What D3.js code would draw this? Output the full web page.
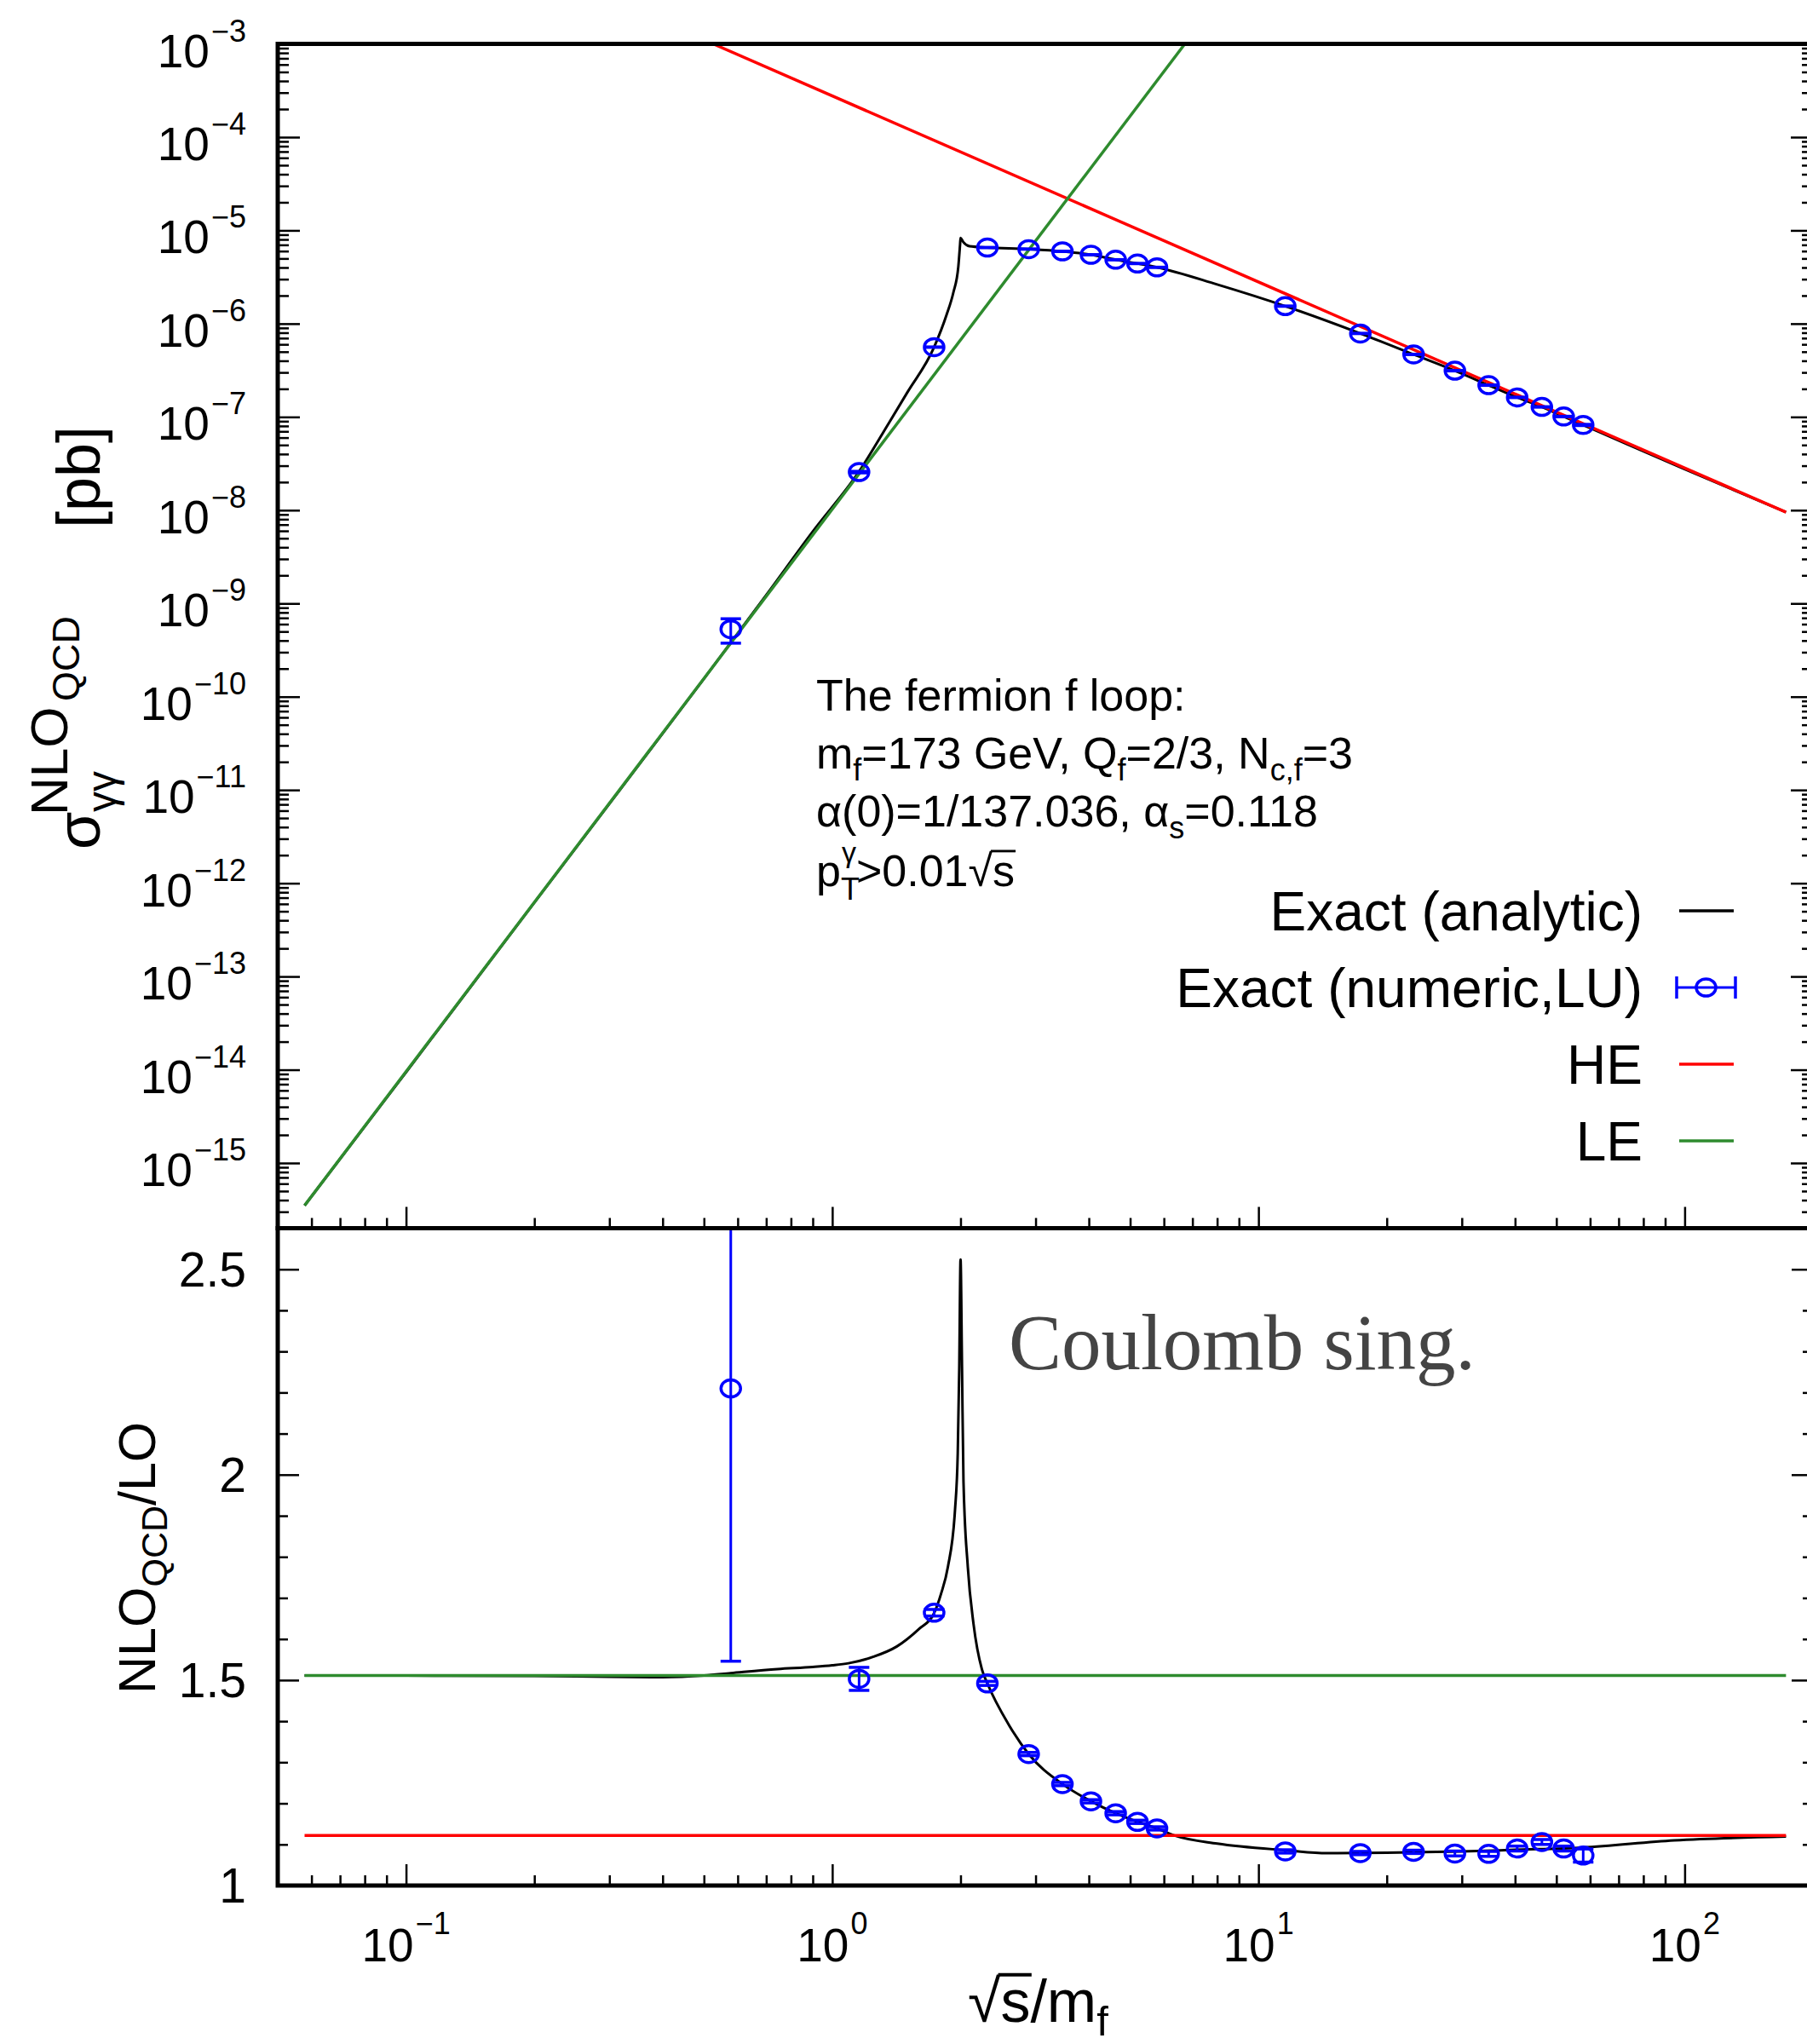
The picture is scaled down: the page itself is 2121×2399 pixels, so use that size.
<!DOCTYPE html>
<html lang="en">
<head>
<meta charset="UTF-8">
<title>sigma NLO QCD, gamma gamma -> gamma gamma, fermion loop</title>
<script src="https://d3js.org/d3.v7.min.js"></script>
<style>
  body { margin: 0; background: #fff; }
  svg { display: block; font-family: "Liberation Sans", Arial, Helvetica, sans-serif; }
  .axis .domain { display: none; }
  .axis line { stroke: #000; stroke-width: 2.5; }
  .frame { fill: none; stroke: #000; stroke-width: 5; }
</style>
</head>
<body>
<svg width="2121" height="2399"></svg>
<script>
// sqrt(s)/m_f of the numeric (LU) points
const ptX = [0.578, 1.156, 1.734, 2.312, 2.890, 3.468, 4.046, 4.624, 5.202, 5.780,
             11.56, 17.34, 23.12, 28.90, 34.68, 40.46, 46.24, 52.02, 57.80];
// cross section [pb] of the numeric points, with errors
const ptSigma = [5.3e-10, 2.56e-8, 5.6e-7, 6.55e-6, 6.3e-6, 5.96e-6, 5.48e-6, 4.85e-6, 4.41e-6, 4.02e-6,
                 1.54e-6, 7.85e-7, 4.68e-7, 3.13e-7, 2.19e-7, 1.62e-7, 1.28e-7, 1.01e-7, 8.2e-8];
const ptSigmaErr = [1.55e-10, 4.9e-10, 2.8e-9, 2.2e-8, 1.9e-8, 1.8e-8, 1.6e-8, 1.5e-8, 1.3e-8, 1.2e-8,
                    5e-9, 2.7e-9, 1.6e-9, 1.7e-9, 1.2e-9, 9e-10, 7e-10, 6e-10, 1.2e-9];
// NLO/LO of the numeric points, with errors
const ptRatio = [2.21, 1.503, 1.664, 1.492, 1.320, 1.247, 1.205, 1.176, 1.155, 1.139,
                 1.083, 1.079, 1.082, 1.078, 1.077, 1.090, 1.106, 1.090, 1.073];
const ptRatioErr = [0.664, 0.028, 0.008, 0.005, 0.004, 0.004, 0.004, 0.004, 0.004, 0.004,
                    0.004, 0.004, 0.004, 0.006, 0.006, 0.006, 0.006, 0.006, 0.016];

// exact (analytic) curve, upper panel
const exactX = [0.0578, 0.1, 0.2, 0.3, 0.5, 0.7, 0.9, 1.156, 1.358, 1.5, 1.734, 1.853, 1.924, 1.976,
                1.995, 2.0, 2.03, 2.1, 2.312, 2.89, 3.468, 4.046, 4.624, 5.202, 5.78, 8.0,
                11.56, 17.34, 23.12, 28.9, 34.68, 40.46, 46.24, 52.02, 57.8, 100, 172.9];
const exactSigma = [3.5e-16, 9.4e-15, 6.2e-13, 7.1e-12, 1.56e-10, 1.23e-9, 5.9e-9, 2.6e-8, 8.6e-8, 1.83e-7,
                    5.6e-7, 1.23e-6, 2.16e-6, 4.07e-6, 7.1e-6, 8.3e-6, 7.5e-6, 6.75e-6, 6.55e-6, 6.3e-6,
                    5.96e-6, 5.48e-6, 4.85e-6, 4.41e-6, 4.02e-6, 2.63e-6, 1.54e-6, 7.85e-7, 4.68e-7,
                    3.13e-7, 2.19e-7, 1.62e-7, 1.28e-7, 1.01e-7, 8.2e-8, 2.75e-8, 9.5e-9];

// exact (analytic) curve, ratio panel
const ratioX = [0.0578, 0.1, 0.2, 0.3, 0.4, 0.5, 0.578, 0.744, 0.9, 1.0, 1.092, 1.25, 1.418, 1.6, 1.73, 1.8,
                1.868, 1.941, 1.97, 1.986, 2.0, 2.016, 2.032, 2.08, 2.145, 2.245, 2.312, 2.6, 2.89,
                3.468, 4.046, 4.624, 5.202, 5.78, 6.36, 8.0, 11.56, 14.5, 20, 29.9, 40, 57.7, 94.5, 172.9];
const ratioY = [1.511, 1.511, 1.510, 1.508, 1.507, 1.511, 1.517, 1.527, 1.532, 1.536, 1.541, 1.557, 1.582, 1.625,
                1.661, 1.71, 1.7755, 1.914, 2.053, 2.26, 2.524, 2.26, 1.983, 1.7755, 1.637, 1.526, 1.492,
                1.39, 1.320, 1.247, 1.205, 1.176, 1.155, 1.139, 1.1216, 1.102, 1.086, 1.079, 1.080,
                1.083, 1.087, 1.0925, 1.110, 1.119];

// high and low energy approximations
const heX = [0.5253, 172.9], heSigma = [1e-3, 9.5e-9];
const leX = [0.0578, 6.72], leSigma = [3.5e-16, 1e-3];
const approxRatioX = [0.0578, 172.9];
const heRatio = [1.122, 1.122], leRatio = [1.511, 1.511];

// tick labels
const yTopExps = [-3, -4, -5, -6, -7, -8, -9, -10, -11, -12, -13, -14, -15];
const xExps = [-1, 0, 1, 2];
const yBotTicks = [1, 1.5, 2, 2.5];
const yBotLabels = ["1", "1.5", "2", "2.5"];

const legendLabels = ["Exact (analytic)", "Exact (numeric,LU)", "HE", "LE"];
const legendKinds = ["black", "points", "red", "green"];

// ---- layout ----
const L = 326, R = 2128, T1 = 51.5, B1 = 1441.5, B2 = 2213;
const GREEN = "#2e8b2e", BLUE = "#0000ff", RED = "#ff0000";

const svg = d3.select("svg");
svg.append("rect").attr("width", 2121).attr("height", 2399).attr("fill", "#fff");

const x = d3.scaleLog().domain([0.05, 200]).range([L, R]);
const yTop = d3.scaleLog().domain([2e-16, 1e-3]).range([B1, T1]);
const yBot = d3.scaleLinear().domain([1, 2.6]).range([B2, B1]);

const defs = svg.append("defs");
defs.append("clipPath").attr("id", "clipTop").append("rect")
    .attr("x", L).attr("y", T1).attr("width", R - L).attr("height", B1 - T1);
defs.append("clipPath").attr("id", "clipBot").append("rect")
    .attr("x", L).attr("y", B1).attr("width", R - L).attr("height", B2 - B1);

// ---- ticks ----
const isDecade = v => Math.abs(Math.log10(v) - Math.round(Math.log10(v))) < 1e-9;
function addAxis(axis, tx, ty) {
    svg.append("g").attr("class", "axis").attr("transform", `translate(${tx},${ty})`).call(axis);
}
const xt = x.ticks(10);
[B1, B2].forEach(yy => {
    addAxis(d3.axisTop(x).tickValues(xt.filter(v => !isDecade(v))).tickSize(12).tickSizeOuter(0).tickFormat(""), 0, yy);
    addAxis(d3.axisTop(x).tickValues(xt.filter(isDecade)).tickSize(25).tickSizeOuter(0).tickFormat(""), 0, yy);
});

const yt = yTop.ticks(20);
addAxis(d3.axisRight(yTop).tickValues(yt.filter(v => !isDecade(v))).tickSize(13).tickSizeOuter(0).tickFormat(""), L, 0);
addAxis(d3.axisRight(yTop).tickValues(yt.filter(isDecade)).tickSize(26).tickSizeOuter(0).tickFormat(""), L, 0);
addAxis(d3.axisLeft(yTop).tickValues(yt.filter(v => !isDecade(v))).tickSize(13).tickSizeOuter(0).tickFormat(""), R, 0);
addAxis(d3.axisLeft(yTop).tickValues(yt.filter(isDecade)).tickSize(26).tickSizeOuter(0).tickFormat(""), R, 0);

const ybt = yBot.ticks(16);
const isHalf = v => Math.abs(v * 2 - Math.round(v * 2)) < 1e-9;
addAxis(d3.axisRight(yBot).tickValues(ybt.filter(v => !isHalf(v))).tickSize(12).tickSizeOuter(0).tickFormat(""), L, 0);
addAxis(d3.axisRight(yBot).tickValues(yBotTicks).tickSize(25).tickSizeOuter(0).tickFormat(""), L, 0);
addAxis(d3.axisLeft(yBot).tickValues(ybt.filter(v => !isHalf(v))).tickSize(12).tickSizeOuter(0).tickFormat(""), R, 0);
addAxis(d3.axisLeft(yBot).tickValues(yBotTicks).tickSize(25).tickSizeOuter(0).tickFormat(""), R, 0);

// ---- tick labels ----
const expText = e => (e < 0 ? "\u2212" : "") + Math.abs(e);
yTopExps.forEach(e => {
    const t = svg.append("text").attr("x", 289).attr("y", yTop(Math.pow(10, e)) + 27)
        .attr("text-anchor", "end").attr("font-size", 55).text("10");
    t.append("tspan").attr("font-size", 36).attr("dx", 2).attr("dy", -30).text(expText(e));
});
xExps.forEach(e => {
    const t = svg.append("text").attr("x", x(Math.pow(10, e))).attr("y", 2302)
        .attr("text-anchor", "middle").attr("font-size", 55).text("10");
    t.append("tspan").attr("font-size", 36).attr("dx", 2).attr("dy", -32).text(expText(e));
});
yBotTicks.forEach((v, i) => {
    svg.append("text").attr("x", 289).attr("y", yBot(v) + 20)
        .attr("text-anchor", "end").attr("font-size", 57).text(yBotLabels[i]);
});

// ---- curves ----
function drawLine(clip, xs, ys, ysc, color, width, curve) {
    const line = d3.line().x(d => x(d[0])).y(d => ysc(d[1]));
    if (curve) line.curve(d3.curveMonotoneX);
    svg.append("path").attr("clip-path", `url(#${clip})`)
        .attr("d", line(d3.zip(xs, ys)))
        .attr("fill", "none").attr("stroke", color).attr("stroke-width", width);
}
drawLine("clipTop", exactX, exactSigma, yTop, "#000", 3, true);
drawLine("clipTop", heX, heSigma, yTop, RED, 3.5, false);
drawLine("clipTop", leX, leSigma, yTop, GREEN, 3.5, false);

drawLine("clipBot", ratioX, ratioY, yBot, "#000", 3, true);
drawLine("clipBot", approxRatioX, heRatio, yBot, RED, 3.5, false);
drawLine("clipBot", approxRatioX, leRatio, yBot, GREEN, 3.5, false);

// ---- numeric points ----
function drawPoints(clip, ys, errs, ysc) {
    const g = svg.append("g").attr("clip-path", `url(#${clip})`)
        .attr("stroke", BLUE).attr("fill", "none");
    ptX.forEach((xv, i) => {
        const px = x(xv), lo = ysc(ys[i] - errs[i]), hi = ysc(ys[i] + errs[i]);
        g.append("line").attr("x1", px).attr("x2", px).attr("y1", lo).attr("y2", hi).attr("stroke-width", 3);
        [lo, hi].forEach(yy => g.append("line").attr("x1", px - 12).attr("x2", px + 12)
            .attr("y1", yy).attr("y2", yy).attr("stroke-width", 3.5));
        g.append("ellipse").attr("cx", px).attr("cy", ysc(ys[i])).attr("rx", 11.5).attr("ry", 10)
            .attr("stroke-width", 3.5);
    });
}
drawPoints("clipTop", ptSigma, ptSigmaErr, yTop);
drawPoints("clipBot", ptRatio, ptRatioErr, yBot);

// ---- frames ----
svg.append("rect").attr("class", "frame").attr("x", L).attr("y", T1).attr("width", R - L).attr("height", B1 - T1);
svg.append("rect").attr("class", "frame").attr("x", L).attr("y", B1).attr("width", R - L).attr("height", B2 - B1);

// ---- text helpers ----
function overline(textSel, fs) {
    const node = textSel.node();
    const str = node.textContent;
    const iRoot = str.lastIndexOf("\u221A"), iS = iRoot + 1;
    const a = node.getEndPositionOfChar(iRoot), b = node.getEndPositionOfChar(iS);
    const parent = d3.select(node.parentNode);
    parent.append("line").attr("x1", a.x - fs * 0.04).attr("x2", b.x + fs * 0.02)
        .attr("y1", a.y - fs * 0.79).attr("y2", a.y - fs * 0.79)
        .attr("stroke", "#000").attr("stroke-width", fs * 0.055);
}

// ---- annotation block ----
const fsA = 52, fsAs = 36;
svg.append("text").attr("x", 958).attr("y", 834).attr("font-size", fsA).text("The fermion f loop:");
const l2 = svg.append("text").attr("x", 958).attr("y", 902).attr("font-size", fsA);
[["m", 0], ["f", 1], ["=173 GeV, Q", 0], ["f", 1], ["=2/3, N", 0], ["c,f", 1], ["=3", 0]].forEach((p, i, arr) => {
    const prev = i ? arr[i - 1][1] : 0;
    l2.append("tspan").attr("font-size", p[1] ? fsAs : fsA).attr("dy", (p[1] - prev) * 14).text(p[0]);
});
const l3 = svg.append("text").attr("x", 958).attr("y", 970).attr("font-size", fsA);
[["\u03B1(0)=1/137.036, \u03B1", 0], ["s", 1], ["=0.118", 0]].forEach((p, i, arr) => {
    const prev = i ? arr[i - 1][1] : 0;
    l3.append("tspan").attr("font-size", p[1] ? fsAs : fsA).attr("dy", (p[1] - prev) * 14).text(p[0]);
});
const l4 = svg.append("text").attr("x", 958).attr("y", 1040).attr("font-size", fsA);
l4.append("tspan").text("p");
l4.append("tspan").attr("font-size", fsAs).attr("dy", 16).text("T");
l4.append("tspan").attr("font-size", 34).attr("dx", -21).attr("dy", -44).text("\u03B3");
l4.append("tspan").attr("font-size", fsA).attr("dy", 28).text(">0.01\u221As");
overline(l4, fsA);

// ---- legend ----
const legX = 1928, legY0 = 1092, legDy = 90;
legendLabels.forEach((lab, i) => {
    const by = legY0 + i * legDy, sy = by - 23;
    svg.append("text").attr("x", legX).attr("y", by).attr("text-anchor", "end")
        .attr("font-size", 64).text(lab);
    const k = legendKinds[i];
    if (k === "points") {
        const g = svg.append("g").attr("stroke", BLUE).attr("fill", "none").attr("stroke-width", 3.5);
        g.append("line").attr("x1", 1968).attr("x2", 2037).attr("y1", sy).attr("y2", sy).attr("stroke-width", 3);
        [1968, 2037].forEach(xx => g.append("line").attr("x1", xx).attr("x2", xx).attr("y1", sy - 13).attr("y2", sy + 13));
        g.append("ellipse").attr("cx", 2002.5).attr("cy", sy).attr("rx", 11.5).attr("ry", 10);
    } else {
        const col = k === "black" ? "#000" : k === "red" ? RED : GREEN;
        svg.append("line").attr("x1", 1971).attr("x2", 2035).attr("y1", sy).attr("y2", sy)
            .attr("stroke", col).attr("stroke-width", 3.5);
    }
});

// ---- Coulomb label ----
svg.append("text").attr("x", 1184).attr("y", 1607)
    .attr("font-family", "'Liberation Serif', 'Times New Roman', serif")
    .attr("font-size", 93).attr("fill", "#444").text("Coulomb sing.");

// ---- axis titles ----
const xt1 = svg.append("text").attr("x", 1136).attr("y", 2373).attr("font-size", 70);
xt1.append("tspan").text("\u221As/m");
xt1.append("tspan").attr("font-size", 49).attr("dy", 16).text("f");
overline(xt1, 70);

const yt1 = svg.append("g").attr("transform", "translate(117,997) rotate(-90)");
yt1.append("text").attr("x", 0).attr("y", 0).attr("font-size", 72).text("\u03C3");
yt1.append("text").attr("x", 44).attr("y", 19).attr("font-size", 48).text("\u03B3\u03B3");
yt1.append("text").attr("x", 40).attr("y", -38).attr("font-size", 62).text("NLO");
yt1.append("text").attr("x", 174).attr("y", -24).attr("font-size", 45).text("QCD");
yt1.append("text").attr("x", 377).attr("y", 0).attr("font-size", 72).text("[pb]");

const yt2 = svg.append("g").attr("transform", "translate(182,1988) rotate(-90)")
    .append("text").attr("x", 0).attr("y", 0).attr("font-size", 61);
yt2.append("tspan").text("NLO");
yt2.append("tspan").attr("font-size", 43).attr("dy", 14).text("QCD");
yt2.append("tspan").attr("font-size", 61).attr("dy", -14).text("/LO");
</script>
</body>
</html>
